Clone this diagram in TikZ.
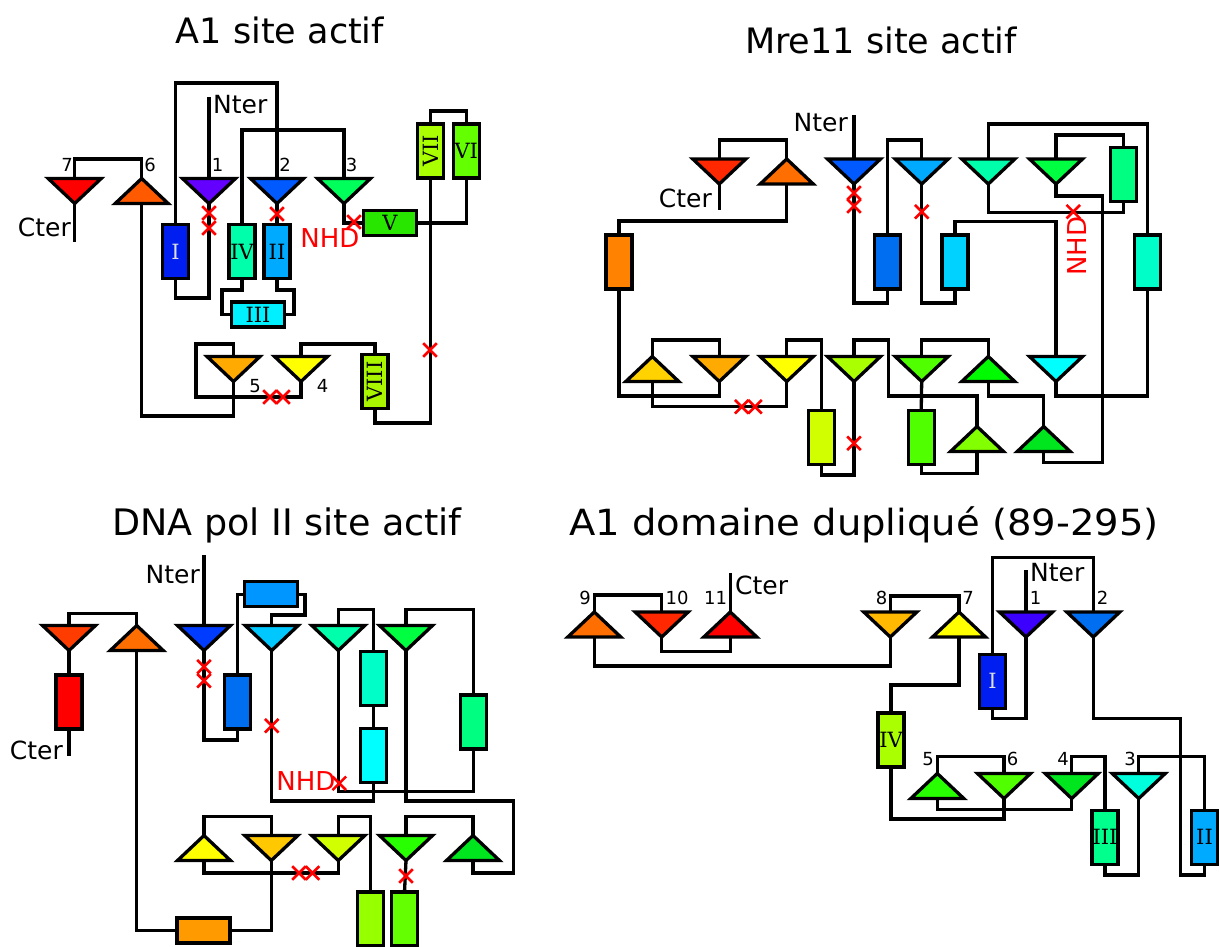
\documentclass[tikz,border=0pt]{standalone}
\usepackage{fontspec}
\setmainfont{DejaVu Sans}
\newfontfamily\rnfont{DejaVu Serif}
\usetikzlibrary{shapes.misc}
\definecolor{cR}{RGB}{255,0,0}
\definecolor{cR1}{RGB}{255,40,0}
\definecolor{cR2}{RGB}{255,60,0}
\definecolor{cO1}{RGB}{255,90,0}
\definecolor{cO2}{RGB}{255,110,0}
\definecolor{cO3}{RGB}{255,130,0}
\definecolor{cO4}{RGB}{255,155,0}
\definecolor{cO5}{RGB}{255,170,0}
\definecolor{cO6}{RGB}{255,185,0}
\definecolor{cO7}{RGB}{255,200,0}
\definecolor{cY1}{RGB}{255,210,0}
\definecolor{cY}{RGB}{255,255,0}
\definecolor{cL1}{RGB}{210,255,0}
\definecolor{cL2}{RGB}{170,255,0}
\definecolor{cL2b}{RGB}{170,245,0}
\definecolor{cL3}{RGB}{150,255,0}
\definecolor{cL4}{RGB}{130,255,0}
\definecolor{cL5}{RGB}{100,255,0}
\definecolor{cL6}{RGB}{80,255,0}
\definecolor{cG1}{RGB}{40,230,0}
\definecolor{cG2}{RGB}{40,255,0}
\definecolor{cG3}{RGB}{0,250,0}
\definecolor{cG4}{RGB}{0,230,30}
\definecolor{cG5}{RGB}{0,255,64}
\definecolor{cG6}{RGB}{0,255,90}
\definecolor{cS1}{RGB}{0,255,128}
\definecolor{cS2}{RGB}{0,255,140}
\definecolor{cT1}{RGB}{0,255,170}
\definecolor{cT2}{RGB}{0,255,200}
\definecolor{cT3}{RGB}{0,255,220}
\definecolor{cC1}{RGB}{0,255,255}
\definecolor{cC2}{RGB}{0,240,255}
\definecolor{cB1}{RGB}{0,210,255}
\definecolor{cB2}{RGB}{0,200,255}
\definecolor{cB3}{RGB}{0,170,255}
\definecolor{cB4}{RGB}{0,150,255}
\definecolor{cB5}{RGB}{0,110,240}
\definecolor{cB6}{RGB}{0,90,255}
\definecolor{cB7}{RGB}{0,60,255}
\definecolor{cB8}{RGB}{0,30,240}
\definecolor{cV1}{RGB}{100,0,255}
\definecolor{cV2}{RGB}{60,0,255}
\newcommand\mydtri[2]{\draw[triline, fill=#2] (#1.north west) -- (#1.north east) -- (#1.south) -- cycle;}
\newcommand\myutri[2]{\draw[triline, fill=#2] (#1.south west) -- (#1.south east) -- (#1.north) -- cycle;}
\tikzset{
  conn/.style={line width=3.3pt, line join=miter},
  triline/.style={draw=black, line width=3.3pt, line join=miter},
  tri/.style={minimum width=53pt, minimum height=25pt, inner sep=0pt, outer sep=0pt},
  bx/.style={draw=black, line width=3.3pt, inner sep=0pt, outer sep=0pt, font=\rnfont\fontsize{21}{21}\selectfont},
  vbox/.style={bx, minimum width=26pt, minimum height=54pt},
  hbox/.style={bx, minimum width=53pt, minimum height=25pt},
  ttl/.style={font=\fontsize{35}{40}\selectfont, inner sep=0pt},
  lbl/.style={font=\fontsize{25}{28}\selectfont, inner sep=0pt},
  nhd/.style={font=\fontsize{26}{28}\selectfont, inner sep=0pt, text=red},
  num/.style={font=\fontsize{18}{18}\selectfont, inner sep=0pt},
  xmk/.style={cross out, draw=red, line width=2.6pt, minimum size=11pt, inner sep=0pt}
}
\begin{document}
\begin{tikzpicture}[x=1pt,y=-1pt]
\useasboundingbox (0,0) rectangle (1220,946);
\fill[white] (0,0) rectangle (1220,946);
\clip (0,0) rectangle (1220,946);

% ================= A1 site actif =================
\node[ttl] (tA) at (280,30) {A1 site actif};
\node[tri] (a7) at (74.7,191) {};
\node[tri] (a6) at (141.7,191) {};
\node[tri] (a1) at (209,191) {};
\node[tri] (a2) at (277,191) {};
\node[tri] (a3) at (344,191) {};
\node[tri] (a5) at (233.5,369) {};
\node[tri] (a4) at (301,369) {};
\node[vbox, fill=cB8, text=gray!25] (aI) at (175.5,251.5) {I};
\node[vbox, fill=cT1] (aIV) at (242,251.5) {IV};
\node[vbox, fill=cB3] (aII) at (277,251.5) {II};
\node[hbox, fill=cC2] (aIII) at (258,314.5) {III};
\node[hbox, fill=cG1] (aV) at (390,223) {V};
\node[vbox, fill=cL5] (aVI) at (466.3,151) {VI};
\node[vbox, fill=cL2] (aVII) at (430.5,151) {\rotatebox{90}{VII}};
\node[vbox, fill=cL2b] (aVIII) at (375,381.5) {\rotatebox{90}{VIII}};
\coordinate (nA) at (209,97);
\coordinate (cA) at (74.7,242);
\node[lbl, anchor=west] (nAt) at (213,105) {Nter};
\node[lbl, anchor=east] (cAt) at (71,227) {Cter};
\node[nhd] (hA) at (330,238) {NHD};
\node[num] (l7) at (67,165) {7};
\node[num] (l6) at (150,165) {6};
\node[num] (l1) at (217.5,165) {1};
\node[num] (l2) at (285,165) {2};
\node[num] (l3) at (351.5,165) {3};
\node[num] (l5) at (255,386) {5};
\node[num] (l4) at (322.5,386) {4};
\begin{scope}[conn]
\draw (aI.north) -- (aI.north |- 0,83) -| (a2.north);
\draw (nA) -- (a1.north);
\draw (a3.north) -- (a3.north |- 0,130) -| (aIV.north);
\draw (a7.north) -- (a7.north |- 0,159) -| (a6.north);
\draw (a7.south) -- (cA);
\draw (a6.south) -- (a6.south |- 0,416) -| (a5.south);
\draw (aI.south) -- (aI.south |- 0,298) -| (a1.south);
\draw (a2.south) -- (aII.north);
\draw (aIV.south) |- (222,290) |- (aIII.west);
\draw (aII.south) |- (294,290) |- (aIII.east);
\draw (a3.south) |- (aV.west);
\draw (aVI.south) |- (aV.east);
\draw (aVII.north) -- (aVII.north |- 0,111) -| (aVI.north);
\draw (aVII.south) -- (aVII.south |- 0,423) -| (aVIII.south);
\draw (a4.north) -- (a4.north |- 0,344) -| (aVIII.north);
\draw (a5.north) -- (a5.north |- 0,344) -| (196,397) -| (a4.south);
\end{scope}
\mydtri{a7}{cR}
\myutri{a6}{cO1}
\mydtri{a1}{cV1}
\mydtri{a2}{cB6}
\mydtri{a3}{cG6}
\mydtri{a5}{cO5}
\mydtri{a4}{cY}
\node[xmk] (xa1) at (209,213) {};
\node[xmk] (xa2) at (209,228) {};
\node[xmk] (xa3) at (277,214) {};
\node[xmk] (xa4) at (354,222) {};
\node[xmk] (xa5) at (270,397) {};
\node[xmk] (xa6) at (283,397) {};
\node[xmk] (xa7) at (430,350) {};

% ================= Mre11 site actif =================
\node[ttl] (tM) at (881,40) {Mre11 site actif};
\node[tri] (m1) at (719.3,171.5) {};
\node[tri] (m2) at (786.7,171.5) {};
\node[tri] (m3) at (854,171.5) {};
\node[tri] (m4) at (921.7,171.5) {};
\node[tri] (m5) at (988.3,171.5) {};
\node[tri] (m6) at (1056,171.5) {};
\node[tri] (m7) at (652.3,369) {};
\node[tri] (m8) at (719.3,369) {};
\node[tri] (m9) at (786.7,369) {};
\node[tri] (m10) at (854,369) {};
\node[tri] (m11) at (921.7,369) {};
\node[tri] (m12) at (988.3,369) {};
\node[tri] (m13) at (1056,369) {};
\node[tri] (m14) at (977,439) {};
\node[tri] (m15) at (1043.7,439) {};
\node[vbox, fill=cO3] (mb1) at (619,262) {};
\node[vbox, fill=cB5] (mb2) at (887.5,262) {};
\node[vbox, fill=cB1] (mb3) at (955,262) {};
\node[vbox, fill=cS1] (mb4) at (1123.8,174.7) {};
\node[vbox, fill=cT2] (mb5) at (1147.8,262) {};
\node[vbox, fill=cL1] (mb6) at (821.7,437.7) {};
\node[vbox, fill=cL6] (mb7) at (921.2,437.5) {};
\coordinate (nM) at (854,115);
\coordinate (cM) at (719.3,210);
\node[lbl, anchor=east] (nMt) at (848,123) {Nter};
\node[lbl, anchor=east] (cMt) at (712,198) {Cter};
\node[nhd, rotate=90] (hM) at (1077.5,246) {NHD};
\begin{scope}[conn]
\draw (m1.north) -- (m1.north |- 0,140) -| (m2.north);
\draw (m1.south) -- (cM);
\draw (m2.south) -- (m2.south |- 0,221) -| (mb1.north);
\draw (nM) -- (m3.north);
\draw (m3.south) -- (m3.south |- 0,303) -| (mb2.south);
\draw (mb2.north) -- (mb2.north |- 0,140) -| (m4.north);
\draw (m4.south) -- (m4.south |- 0,303) -| (mb3.south);
\draw (mb3.north) -- (mb3.north |- 0,221.7) -| (m13.north);
\draw (m5.north) -- (m5.north |- 0,124) -| (mb5.north);
\draw (m5.south) -- (m5.south |- 0,212.7) -| (mb4.south);
\draw (m6.north) -- (m6.north |- 0,135) -| (mb4.north);
\draw (m6.south) -- (m6.south |- 0,196) -| (1102.7,462.7) -| (m15.south);
\draw (mb5.south) -- (mb5.south |- 0,396) -| (m13.south);
\draw (mb1.south) -- (mb1.south |- 0,396) -| (m8.south);
\draw (m7.north) -- (m7.north |- 0,340) -| (m8.north);
\draw (m7.south) -- (m7.south |- 0,406.7) -| (m9.south);
\draw (m9.north) -- (m9.north |- 0,340) -| (mb6.north);
\draw (mb6.south) -- (mb6.south |- 0,475) -| (m10.south);
\draw (m10.north) -- (m10.north |- 0,340) -| (888.3,396) -| (m14.north);
\draw (m11.south) -- (mb7.north);
\draw (m11.north) -- (m11.north |- 0,340) -| (m12.north);
\draw (mb7.south) -- (mb7.south |- 0,473.3) -| (m14.south);
\draw (m12.south) -- (m12.south |- 0,396) -| (m15.north);
\end{scope}
\mydtri{m1}{cR1}
\myutri{m2}{cO2}
\mydtri{m3}{cB6}
\mydtri{m4}{cB3}
\mydtri{m5}{cT1}
\mydtri{m6}{cG5}
\myutri{m7}{cY1}
\mydtri{m8}{cO5}
\mydtri{m9}{cY}
\mydtri{m10}{cL2}
\mydtri{m11}{cL6}
\myutri{m12}{cG3}
\mydtri{m13}{cC1}
\myutri{m14}{cL4}
\myutri{m15}{cG4}
\node[xmk] (xm1) at (854,193) {};
\node[xmk] (xm2) at (854,206) {};
\node[xmk] (xm3) at (921.7,211.7) {};
\node[xmk] (xm4) at (1073.3,211.7) {};
\node[xmk] (xm5) at (741.7,406.7) {};
\node[xmk] (xm6) at (755,406.7) {};
\node[xmk] (xm7) at (854,443.3) {};

% ================= DNA pol II site actif =================
\node[ttl] (tD) at (287,525) {\fontsize{36.5}{40}\selectfont DNA pol II site actif};
\node[tri] (d1) at (69,638) {};
\node[tri] (d2) at (136.7,638) {};
\node[tri] (d3) at (204,638) {};
\node[tri] (d4) at (271.7,638) {};
\node[tri] (d5) at (338.3,638) {};
\node[tri] (d6) at (406,638) {};
\node[tri] (d7) at (204,848) {};
\node[tri] (d8) at (271.3,848) {};
\node[tri] (d9) at (338.3,848) {};
\node[tri] (d10) at (406,848) {};
\node[tri] (d11) at (473,848) {};
\node[vbox, fill=cR] (db1) at (69,702) {};
\node[vbox, fill=cB5] (db2) at (237.2,702) {};
\node[hbox, fill=cB4] (db3) at (270.8,594.3) {};
\node[vbox, fill=cT2] (db4) at (373.3,678.7) {};
\node[vbox, fill=cC1] (db5) at (373.3,755.8) {};
\node[vbox, fill=cS1] (db6) at (473.7,722) {};
\node[hbox, fill=cO4] (db7) at (203.5,930.5) {};
\node[vbox, fill=cL3] (db8) at (370.7,919) {};
\node[vbox, fill=cL5] (db9) at (404.5,919) {};
\coordinate (nD) at (204,555);
\coordinate (cD) at (69,756);
\node[lbl, anchor=east] (nDt) at (200,575) {Nter};
\node[lbl, anchor=east] (cDt) at (63,750) {Cter};
\node[nhd] (hD) at (306,781) {NHD};
\begin{scope}[conn]
\draw (d1.north) -- (d1.north |- 0,613.3) -| (d2.north);
\draw (d1.south) -- (db1.north);
\draw (db1.south) -- (cD);
\draw (nD) -- (d3.north);
\draw (d3.south) -- (d3.south |- 0,740) -| (db2.south);
\draw (db2.north) |- (db3.west);
\draw (db3.east) -| (305,615) -| (d4.north);
\draw (d4.south) -- (d4.south |- 0,801) -| (db5.south);
\draw (d5.north) -- (d5.north |- 0,609.3) -| (db4.north);
\draw (db4.south) -- (db5.north);
\draw (d5.south) -- (d5.south |- 0,791.7) -| (db6.south);
\draw (d6.north) -- (d6.north |- 0,609.3) -| (db6.north);
\draw (d6.south) -- (d6.south |- 0,801) -| (513.5,873) -| (d11.south);
\draw (d2.south) |- (db7.west);
\draw (db7.east) -| (d8.south);
\draw (d7.north) -- (d7.north |- 0,816.8) -| (d8.north);
\draw (d7.south) -- (d7.south |- 0,873) -| (d9.south);
\draw (d9.north) -- (d9.north |- 0,816.8) -| (db8.north);
\draw (d10.north) -- (d10.north |- 0,816.8) -| (d11.north);
\draw (d10.south) -- (db9.north);
\end{scope}
\mydtri{d1}{cR2}
\myutri{d2}{cO2}
\mydtri{d3}{cB7}
\mydtri{d4}{cB2}
\mydtri{d5}{cT1}
\mydtri{d6}{cG5}
\myutri{d7}{cY}
\mydtri{d8}{cO7}
\mydtri{d9}{cL1}
\mydtri{d10}{cG2}
\myutri{d11}{cG4}
\node[xmk] (xd1) at (204,666.7) {};
\node[xmk] (xd2) at (204,680.7) {};
\node[xmk] (xd3) at (271.7,725.7) {};
\node[xmk] (xd4) at (339.3,783.3) {};
\node[xmk] (xd5) at (299,873) {};
\node[xmk] (xd6) at (312.5,873) {};
\node[xmk] (xd7) at (406,876) {};

% ================= A1 domaine duplique =================
\node[ttl] (tE) at (864,525) {\scalebox{1.1}[1.03]{A1 domaine dupliqué (89-295)}};
\node[tri] (e9) at (594.3,624.5) {};
\node[tri] (e10) at (661.7,624.5) {};
\node[tri] (e11) at (730.3,624.5) {};
\node[tri] (e8) at (890.3,624.5) {};
\node[tri] (e7) at (959,624.5) {};
\node[tri] (e1) at (1026,624.5) {};
\node[tri] (e2) at (1093.3,624.5) {};
\node[tri] (e5) at (937.3,786) {};
\node[tri] (e6) at (1004,786) {};
\node[tri] (e4) at (1071.7,786) {};
\node[tri] (e3) at (1138.7,786) {};
\node[vbox, fill=cB8, text=gray!25] (eI) at (992.5,681.3) {I};
\node[vbox, fill=cL2] (eIV) at (891,740) {IV};
\node[vbox, fill=cS2] (eIII) at (1105,837.3) {III};
\node[vbox, fill=cB3] (eII) at (1204.5,837.3) {II};
\coordinate (cE) at (730.3,573.3);
\coordinate (nE) at (1026,570);
\node[lbl, anchor=west] (cEt) at (735,585) {Cter};
\node[lbl, anchor=west] (nEt) at (1030,573) {Nter};
\node[num] (k9) at (585,598) {9};
\node[num] (k10) at (677,598) {10};
\node[num] (k11) at (715.5,598) {11};
\node[num] (k8) at (881.5,598) {8};
\node[num] (k7) at (968,598) {7};
\node[num] (k1) at (1035.5,598) {1};
\node[num] (k2) at (1102.5,598) {2};
\node[num] (k5) at (928,759) {5};
\node[num] (k6) at (1012.5,759) {6};
\node[num] (k4) at (1063,759) {4};
\node[num] (k3) at (1130,759) {3};
\begin{scope}[conn]
\draw (cE) -- (e11.north);
\draw (e9.north) -- (e9.north |- 0,595) -| (e10.north);
\draw (e10.south) -- (e10.south |- 0,651.7) -| (e11.south);
\draw (e9.south) -- (e9.south |- 0,666) -| (e8.south);
\draw (e8.north) -- (e8.north |- 0,596) -| (e7.north);
\draw (e7.south) -- (e7.south |- 0,685) -| (eIV.north);
\draw (eI.north) -- (eI.north |- 0,557.3) -| (e2.north);
\draw (nE) -- (e1.north);
\draw (e1.south) -- (e1.south |- 0,718.3) -| (eI.south);
\draw (e2.south) -- (e2.south |- 0,718.3) -| (1180.7,875) -| (eII.south);
\draw (eIV.south) -- (eIV.south |- 0,819) -| (e6.south);
\draw (e5.north) -- (e5.north |- 0,756.7) -| (e6.north);
\draw (e5.south) -- (e5.south |- 0,809.3) -| (e4.south);
\draw (e4.north) -- (e4.north |- 0,756.7) -| (eIII.north);
\draw (eIII.south) -- (eIII.south |- 0,875) -| (e3.south);
\draw (e3.north) -- (e3.north |- 0,756.7) -| (eII.north);
\end{scope}
\myutri{e9}{cO2}
\mydtri{e10}{cR1}
\myutri{e11}{cR}
\mydtri{e8}{cO6}
\myutri{e7}{cY}
\mydtri{e1}{cV2}
\mydtri{e2}{cB5}
\myutri{e5}{cG2}
\mydtri{e6}{cL6}
\mydtri{e4}{cG4}
\mydtri{e3}{cT3}
\end{tikzpicture}
\end{document}
